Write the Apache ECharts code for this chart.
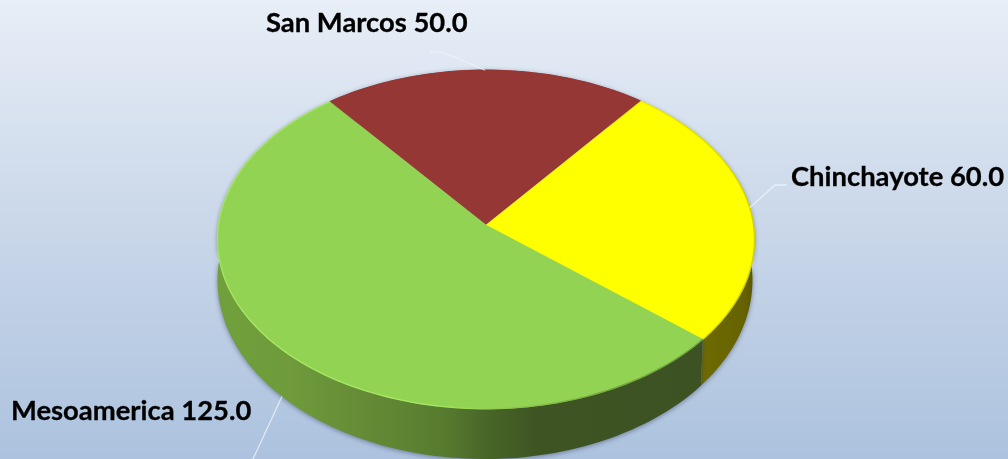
<!DOCTYPE html>
<html>
<head>
<meta charset="utf-8">
<script src="https://cdn.jsdelivr.net/npm/echarts@6/dist/echarts.min.js"></script>
<style>html,body{margin:0;padding:0;overflow:hidden}#c{width:1008px;height:459px}</style>
</head>
<body>
<div id="c"></div>
<script>
const categories = ['San Marcos', 'Chinchayote', 'Mesoamerica'];
const values = [50.0, 60.0, 125.0];
const topColors = ['#953735', '#ffff00', '#92d353'];

// Perspective disc model (unit circle projected to the picture)
const total = values.reduce((a, b) => a + b, 0);
const startDeg = -38.5;
const K = 0.0856;
const topDisc = { cx: 486, cy: 225, a: 267.5, b: 168 };
const baseDisc = { cx: 485, cy: 264.7, a: 266.5, b: 177.7 };
function project(deg, d) {
  const t = deg * Math.PI / 180, x = Math.sin(t), y = Math.cos(t), w = 1 + K * y;
  return [d.cx + d.a * x / w, d.cy - d.b * y / w];
}
function span(i) {
  let s = 0;
  for (let j = 0; j < i; j++) s += values[j];
  return [startDeg + s / total * 360, startDeg + (s + values[i]) / total * 360];
}
function arc(from, to, d) {
  const n = Math.max(2, Math.ceil((to - from) / 1.5)), pts = [];
  for (let i = 0; i <= n; i++) pts.push(project(from + (to - from) * i / n, d));
  return pts;
}
function hGrad(x, x2, stops) {
  return { type: 'linear', x: x, y: 0, x2: x2, y2: 0, global: true,
    colorStops: stops.map(s => ({ offset: s[0], color: s[1] })) };
}
const wallFills = [
  '#5a1f1e',
  hGrad(700, 756, [[0, '#6f6b00'], [0.8, '#666200'], [1, '#565300']]),
  hGrad(218, 703, [[0, '#70a03c'], [0.15, '#6f9b3b'], [0.31, '#648a36'], [0.46, '#587c2f'], [0.56, '#486528'], [0.66, '#3e5422'], [1, '#3c5222']])
];
const rimStrokes = [
  '#953735',
  hGrad(640, 756, [[0, '#eeee00'], [1, '#d2d200']]),
  hGrad(218, 703, [[0, '#a4e662'], [0.45, '#a4e662'], [0.6, '#8cc850'], [0.8, '#76a844'], [1, '#6f9f40']])
];
const labelPos = [
  { x: 266, y: 23, line: [[430, 52], [442, 52]] },
  { x: 791, y: 177, line: [[787, 185], [775, 185]] },
  { x: 11, y: 411, line: null, tail: [253, 459] }
];

function renderWall(params) {
  const i = params.dataIndex, s = span(i);
  const pts = arc(s[0], s[1], topDisc).concat(arc(s[0], s[1], baseDisc).reverse());
  return { type: 'polygon', shape: { points: pts },
    style: { fill: wallFills[i], shadowBlur: 5, shadowColor: 'rgba(50,60,90,0.55)', shadowOffsetY: 1 } };
}
function renderTop(params) {
  const i = params.dataIndex, s = span(i);
  const pts = [[topDisc.cx, topDisc.cy]].concat(arc(s[0], s[1], topDisc));
  return { type: 'group', children: [
    { type: 'polygon', shape: { points: pts }, style: { fill: topColors[i], stroke: topColors[i], lineWidth: 0.5 } },
    { type: 'polyline', shape: { points: arc(s[0], s[1], topDisc) }, style: { fill: null, stroke: rimStrokes[i], lineWidth: 1.4 } }
  ] };
}
function renderLabel(params) {
  const i = params.dataIndex, s = span(i), mid = (s[0] + s[1]) / 2, p = labelPos[i];
  const onFront = mid > 100 && mid < 260;
  const anchor = project(mid, onFront ? baseDisc : topDisc);
  const pts = p.line ? [p.line[0], p.line[1], anchor] : [anchor, p.tail];
  return { type: 'group', children: [
    { type: 'polyline', shape: { points: pts }, style: { fill: null, stroke: 'rgba(240,244,250,0.75)', lineWidth: 1.3 } },
    { type: 'text', style: { x: p.x, y: p.y, text: categories[i] + ' ' + values[i].toFixed(1),
        font: 'bold 27.4px Lato', fill: '#000', stroke: '#000', lineWidth: 0.3, textAlign: 'left', textVerticalAlign: 'middle' } }
  ] };
}
const rows = categories.map((c, i) => ({ name: c, value: values[i] }));
const chart = echarts.init(document.getElementById('c'), null, { renderer: 'canvas' });
chart.setOption({
  animation: false,
  backgroundColor: { type: 'linear', x: 0, y: 0, x2: 0, y2: 1, colorStops: [
    { offset: 0, color: '#e7eef7' }, { offset: 0.45, color: '#ccd9ea' }, { offset: 1, color: '#acc2de' } ] },
  series: [
    { type: 'custom', coordinateSystem: 'none', z: 1, data: rows, renderItem: renderWall, silent: true },
    { type: 'custom', coordinateSystem: 'none', z: 2, data: rows, renderItem: renderTop, silent: true },
    { type: 'custom', coordinateSystem: 'none', z: 3, data: rows, renderItem: renderLabel, silent: true }
  ]
});
</script>
</body>
</html>
